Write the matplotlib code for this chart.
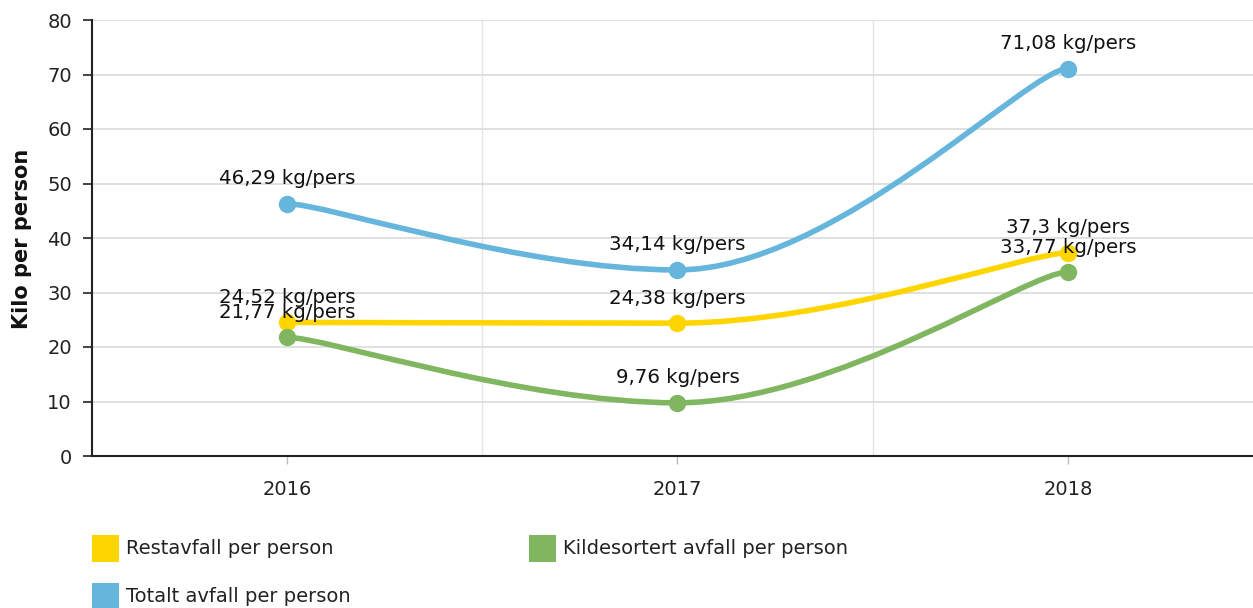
import numpy as np
import matplotlib.pyplot as plt
from matplotlib.path import Path
from matplotlib.patches import PathPatch, Rectangle

years = ["2016", "2017", "2018"]
restavfall = [24.52, 24.38, 37.3]
kildesortert = [21.77, 9.76, 33.77]
totalt = [46.29, 34.14, 71.08]

series_names = ["Restavfall per person", "Kildesortert avfall per person", "Totalt avfall per person"]
colors = ["#FFD500", "#80B660", "#65B5DC"]


def spline_path(xs, ys, smoothing=1.5, end_arm=0.1):
    # highcharts-like spline, ends leave/arrive almost flat
    n = len(xs)
    left = [None] * n
    right = [None] * n
    for i in range(1, n - 1):
        px, py = xs[i], ys[i]
        lx, ly = xs[i - 1], ys[i - 1]
        nx, ny = xs[i + 1], ys[i + 1]
        d = smoothing + 1
        lcx = (smoothing * px + lx) / d
        lcy = (smoothing * py + ly) / d
        rcx = (smoothing * px + nx) / d
        rcy = (smoothing * py + ny) / d
        corr = ((rcy - lcy) * (rcx - px)) / (rcx - lcx) + py - rcy
        lcy += corr
        rcy += corr
        if lcy > ly and lcy > py:
            lcy = max(ly, py)
            rcy = 2 * py - lcy
        elif lcy < ly and lcy < py:
            lcy = min(ly, py)
            rcy = 2 * py - lcy
        if rcy > ny and rcy > py:
            rcy = max(ny, py)
            lcy = 2 * py - rcy
        elif rcy < ny and rcy < py:
            rcy = min(ny, py)
            lcy = 2 * py - rcy
        left[i] = (lcx, lcy)
        right[i] = (rcx, rcy)
    right[0] = (xs[0] + end_arm * (xs[1] - xs[0]), ys[0])
    left[-1] = (xs[-1] - end_arm * (xs[-1] - xs[-2]), ys[-1])
    verts = [(xs[0], ys[0])]
    codes = [Path.MOVETO]
    for i in range(1, n):
        verts += [right[i - 1], left[i], (xs[i], ys[i])]
        codes += [Path.CURVE4] * 3
    return Path(verts, codes)


W, H = 1253, 608
fig = plt.figure(figsize=(W / 100, H / 100), dpi=100)
ax = fig.add_axes([92 / W, 1 - 456 / H, 1 - 92 / W, 436 / H])

x = np.arange(len(years))
for vals, c in zip([restavfall, kildesortert, totalt], colors):
    ax.add_patch(PathPatch(spline_path(x, vals), facecolor="none", edgecolor=c,
                           lw=4.0, capstyle="round", joinstyle="round", zorder=3))
    ax.plot(x, vals, "o", color=c, ms=11.5, zorder=4)
    for xi, v in zip(x, vals):
        ax.annotate(f"{v:g}".replace(".", ",") + " kg/pers", (xi, v), xytext=(0, 14),
                    textcoords="offset points", ha="center", va="baseline",
                    fontsize=14.2, color="#111111", zorder=5)

ax.set_xlim(-0.5, 2.5 - 10 / 390.5)
ax.set_ylim(0, 80)
ax.set_yticks(range(0, 81, 10))
ax.set_xticks(x)
ax.set_xticklabels(years)
ax.tick_params(axis="y", length=6.5, width=1.2, color="#222222", pad=8, labelsize=14, labelcolor="#222222")
ax.tick_params(axis="x", length=6, width=1, color="#bbbbbb", pad=11, labelsize=14, labelcolor="#222222")
ax.grid(axis="y", color="#dadada", lw=1.2, zorder=0)
for b in [0.5, 1.5]:
    ax.axvline(b, color="#e4e4e4", lw=1, zorder=0)
for s in ["top", "right"]:
    ax.spines[s].set_visible(False)
ax.spines["left"].set_linewidth(1.5)
ax.spines["bottom"].set_linewidth(1.5)
ax.spines["left"].set_color("#222222")
ax.spines["bottom"].set_color("#222222")

fig.text(22 / W, 1 - 239 / H, "Kilo per person", rotation=90, ha="center", va="center",
         fontsize=15, fontweight="bold", color="#111111")

# legend drawn by hand below the plot
legend_pos = [(92, 535), (529, 535), (92, 583)]
for (lx, ly), name, c in zip(legend_pos, series_names, colors):
    fig.add_artist(Rectangle((lx / W, 1 - (ly + 27) / H), 27 / W, 27 / H,
                             transform=fig.transFigure, facecolor=c, edgecolor="none"))
    fig.text((lx + 34) / W, 1 - (ly + 14) / H, name, ha="left", va="center",
             fontsize=14, color="#222222")

fig.savefig("out.png", dpi=100)
